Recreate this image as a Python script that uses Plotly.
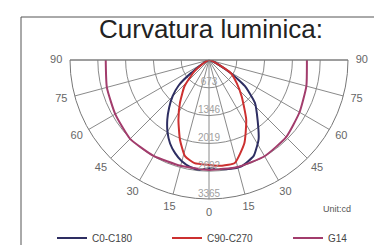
import plotly.graph_objects as go

# Signed angles (degrees from nadir): negative = left half, positive = right half
c0_angle = [-57, -54, -50, -45, -40, -35, -30, -25, -20, -15, -10, -5, 0,
            5, 10, 17, 25, 32, 39, 47, 54, 59, 62]
c0_cd = [0, 530, 960, 1250, 1500, 1760, 2010, 2230, 2400, 2540, 2630, 2665, 2620,
         2650, 2680, 2690, 2560, 2265, 1870, 1520, 1070, 620, 0]

c90_angle = [-57, -52, -43, -34, -27, -20, -14, -8, 0,
             7, 14, 23, 32, 42, 50, 59, 62]
c90_cd = [0, 440, 870, 1260, 1630, 2055, 2400, 2520, 2540,
          2580, 2570, 2190, 1700, 1180, 880, 620, 0]

g14_angle = [-90, -75, -60, -45, -30, -15, 0, 15, 30, 45, 60, 75, 90]
g14_cd = [2500, 2560, 2620, 2700, 2680, 2650, 2660, 2680, 2690, 2640, 2530, 2440, 2370]

ring_values = [673, 1346, 2019, 2692, 3365]
ring_labels = ["673", "1346", "2019", "2692", "3365"]

tick_angle = [-90, -75, -60, -45, -30, -15, 0, 15, 30, 45, 60, 75, 90]
tick_text = ["90", "75", "60", "45", "30", "15", "0", "15", "30", "45", "60", "75", "90"]
tick_label_r = 3700   # label radius, just outside the outer ring (3365)
label_range = 3800    # range of the invisible label subplot

series = [
    ("C0-C180", c0_angle, c0_cd, "#2e2e62", "legend"),
    ("C90-C270", c90_angle, c90_cd, "#cc3030", "legend2"),
    ("G14", g14_angle, g14_cd, "#a23c6c", "legend3"),
]

fig = go.Figure()
for name, ang, val, col, leg in series:
    fig.add_trace(go.Scatterpolar(
        r=val, theta=[270 + a for a in ang], mode="lines", name=name, legend=leg,
        line=dict(color=col, width=2, shape="spline", smoothing=0.5),
        hoverinfo="skip"))

fig.add_trace(go.Scatterpolar(
    r=ring_values, theta=[270] * len(ring_values), mode="text",
    text=ring_labels, textposition="top center",
    textfont=dict(size=10, color="#a0a0a0", family="Liberation Sans, Arial"),
    showlegend=False, hoverinfo="skip"))

fig.add_trace(go.Scatterpolar(
    r=[tick_label_r] * len(tick_angle), theta=[270 + a for a in tick_angle],
    mode="text", text=tick_text, textposition="middle center", cliponaxis=False,
    textfont=dict(size=11, color="#666", family="Liberation Sans, Arial"),
    showlegend=False, hoverinfo="skip", subplot="polar2"))

W, H = 382, 245
cx, cy, R = 201, 52, 139
R2 = R * label_range / ring_values[-1]
hidden_axis = dict(showticklabels=False, ticks="", showline=False, showgrid=False)


def legend_at(px):
    return dict(orientation="h", x=px / W, y=(H - 230) / H, yanchor="middle",
                xanchor="left", font=dict(size=10, color="#444"),
                bgcolor="rgba(0,0,0,0)", itemwidth=30)


fig.update_layout(
    width=W, height=H,
    margin=dict(l=0, r=0, t=0, b=0),
    paper_bgcolor="white",
    font=dict(family="Liberation Sans, Arial", color="#555"),
    title=dict(text="Curvatura luminica:", x=203 / W, y=1 - 21 / H,
               xanchor="center", yanchor="middle",
               font=dict(size=26, color="#222", family="Liberation Sans, Arial")),
    polar=dict(
        domain=dict(x=[(cx - R) / W, (cx + R) / W], y=[(H - cy - R) / H, (H - cy) / H]),
        sector=[180, 360],
        bgcolor="white",
        radialaxis=dict(range=[0, ring_values[-1]], tickvals=ring_values, showticklabels=False,
                        ticks="", showline=False, gridcolor="#8a8a8a", gridwidth=1),
        angularaxis=dict(rotation=0, direction="counterclockwise",
                         tickvals=[270 + a for a in tick_angle], showticklabels=False,
                         ticks="", showline=True, linecolor="#777", linewidth=1,
                         gridcolor="#8a8a8a", gridwidth=1),
    ),
    polar2=dict(
        domain=dict(x=[(cx - R2) / W, (cx + R2) / W], y=[(H - cy - R2) / H, (H - cy) / H]),
        sector=[180, 360],
        bgcolor="rgba(0,0,0,0)",
        radialaxis=dict(range=[0, label_range], **hidden_axis),
        angularaxis=dict(rotation=0, direction="counterclockwise", **hidden_axis),
    ),
    legend=legend_at(44),
    legend2=legend_at(159),
    legend3=legend_at(280),
    annotations=[dict(text="Unit:cd", x=329 / W, y=1 - 201 / H, xref="paper", yref="paper",
                      showarrow=False, xanchor="center", yanchor="middle",
                      font=dict(size=9, color="#555"))],
    shapes=[dict(type="rect", xref="paper", yref="paper", x0=13 / W, x1=1.02,
                 y0=-0.02, y1=1 - 9 / H, line=dict(color="#555", width=1))],
)

fig.write_html("out.html")
